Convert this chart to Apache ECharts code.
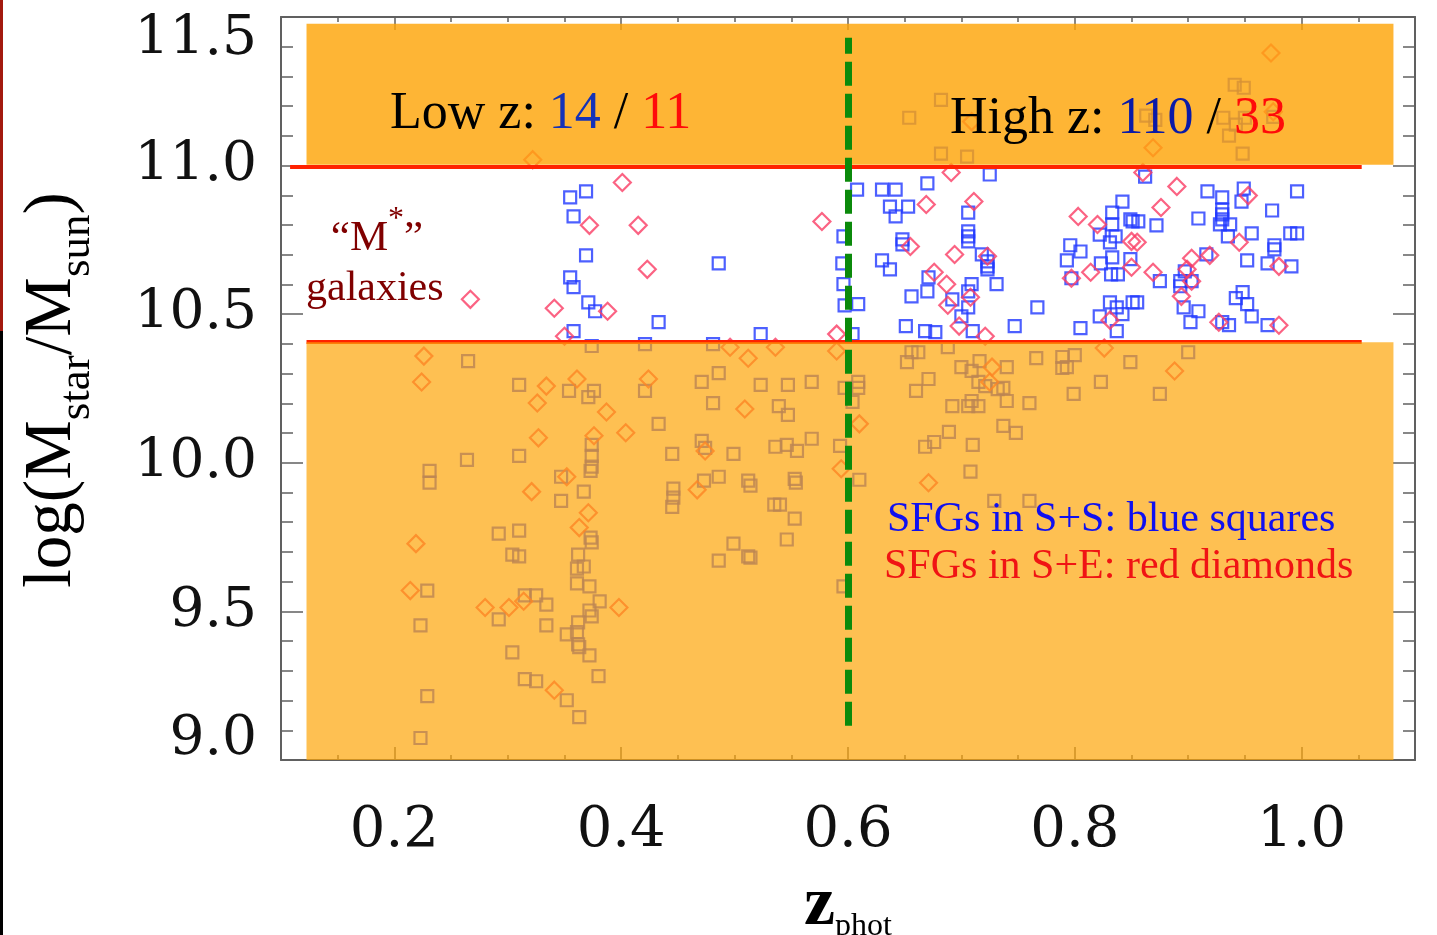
<!DOCTYPE html>
<html lang="en">
<head>
<meta charset="UTF-8">
<title>M* galaxies vs z_phot</title>
<style type="text/css">
    html, body { margin: 0; padding: 0; background: #fff; }
    #chart { width: 1437px; height: 935px; }
</style>
</head>
<body>
<div id="chart"></div>
<script src="https://cdn.jsdelivr.net/npm/echarts@6/dist/echarts.min.js"></script>
<script type="text/javascript">
    // axis ranges
    var zRange = [0.1, 1.1];
    var massRange = [9.0, 11.5];

    // red mass cuts, orange shaded bands, green z split
    var cutMass = [10.997, 10.408];
    var cutSpan = [[0.108, 1.053], [0.1225, 1.053]];
    var bandZ = [0.1225, 1.081];
    var bandHigh = [11.003, 11.477];
    var bandLow = [9.0, 10.406];
    var zSplit = 0.6;
    var splitSpan = [9.115, 11.43];

    // SFGs in S+S (blue squares): [z_phot, log M]
    var ssPoints = [
        // low z, M* window
        [0.355,10.893],[0.369,10.913],[0.358,10.829],[0.369,10.698],[0.355,10.624],[0.358,10.591],
        [0.371,10.540],[0.377,10.510],[0.358,10.443],[0.433,10.473],[0.486,10.671],[0.523,10.433],
        [0.596,10.762],[0.595,10.671],[0.596,10.601],[0.597,10.530],
        // high z, M* window
        [0.608,10.919],[0.630,10.919],[0.642,10.919],[0.670,10.940],[0.725,10.970],[0.637,10.862],
        [0.653,10.862],[0.642,10.829],[0.706,10.842],[0.706,10.779],[0.706,10.762],[0.706,10.745],
        [0.648,10.752],[0.648,10.735],[0.630,10.681],[0.637,10.651],[0.718,10.701],[0.723,10.678],
        [0.723,10.661],[0.723,10.651],[0.671,10.624],[0.670,10.577],[0.709,10.601],[0.706,10.577],
        [0.731,10.601],[0.656,10.560],[0.692,10.550],[0.706,10.523],[0.700,10.493],[0.609,10.534],
        [0.651,10.460],[0.668,10.443],[0.677,10.440],[0.710,10.443],[0.747,10.460],[0.767,10.523],
        [0.604,10.433],[0.796,10.732],[0.805,10.711],[0.793,10.681],[0.797,10.621],[0.823,10.671],
        [0.833,10.691],[0.832,10.634],[0.838,10.634],[0.842,10.879],[0.833,10.842],[0.833,10.802],
        [0.822,10.768],[0.831,10.742],[0.836,10.762],[0.849,10.819],[0.831,10.540],[0.822,10.493],
        [0.842,10.500],[0.837,10.523],[0.805,10.453],[0.837,10.443],[0.851,10.540],[0.849,10.685],
        [0.862,10.963],[0.917,10.913],[0.930,10.893],[0.949,10.923],[0.947,10.879],[0.996,10.913],
        [0.974,10.849],[0.930,10.852],[0.930,10.836],[0.930,10.819],[0.909,10.822],[0.872,10.799],
        [0.851,10.812],[0.856,10.812],[0.928,10.802],[0.937,10.802],[0.935,10.762],[0.956,10.772],
        [0.990,10.772],[0.996,10.772],[0.976,10.732],[0.976,10.718],[0.952,10.681],[0.970,10.671],
        [0.991,10.661],[0.916,10.701],[0.875,10.611],[0.893,10.611],[0.893,10.594],[0.903,10.611],
        [0.897,10.644],[0.855,10.540],[0.896,10.523],[0.909,10.510],[0.902,10.473],[0.942,10.554],
        [0.948,10.574],[0.952,10.534],[0.956,10.493],[0.936,10.463],[0.930,10.473],[0.970,10.463],
        // above 11.0
        [0.682,11.221],[0.654,11.161],[0.863,11.168],[0.871,11.154],[0.941,11.272],[0.949,11.262],
        [0.931,11.161],[0.942,11.138],[0.936,11.101],[0.950,11.161],[0.975,11.164],[0.682,11.040],
        [0.705,11.030],[0.948,11.040],
        // below the window, low z
        [0.265,10.342],[0.310,10.262],[0.354,10.242],[0.264,10.010],[0.310,10.023],[0.231,9.973],
        [0.231,9.933],[0.347,9.953],[0.347,9.872],[0.292,9.762],[0.310,9.772],[0.374,10.393],
        [0.421,10.399],[0.481,10.399],[0.376,10.242],[0.371,10.221],[0.421,10.242],[0.471,10.272],
        [0.486,10.302],[0.523,10.262],[0.547,10.262],[0.568,10.272],[0.597,10.252],[0.481,10.201],
        [0.539,10.191],[0.547,10.161],[0.433,10.131],[0.374,10.060],[0.374,10.023],[0.374,9.987],
        [0.373,9.973],[0.471,10.074],[0.474,10.050],[0.445,10.030],[0.499,10.030],[0.536,10.054],
        [0.546,10.060],[0.555,10.040],[0.568,10.081],[0.593,10.057],[0.367,9.903],[0.446,9.913],
        [0.446,9.883],[0.445,9.852],[0.473,9.940],[0.486,9.953],[0.512,9.940],[0.514,9.923],
        [0.553,9.946],[0.554,9.933],[0.535,9.859],[0.540,9.859],[0.373,9.748],[0.374,9.732],
        [0.499,9.728],[0.553,9.812],[0.546,9.742],[0.362,9.691],[0.361,9.644],[0.367,9.651],
        [0.361,9.594],[0.372,9.584],[0.381,9.534],[0.372,9.503],[0.374,9.483],[0.362,9.463],
        [0.361,9.430],[0.352,9.423],[0.362,9.389],[0.363,9.380],[0.372,9.352],[0.380,9.282],
        [0.352,9.201],[0.363,9.144],[0.486,9.671],[0.512,9.685],[0.514,9.681],[0.596,9.584],
        [0.229,9.570],[0.223,9.453],[0.229,9.215],[0.223,9.074],[0.304,9.691],[0.310,9.685],
        [0.315,9.554],[0.325,9.554],[0.334,9.523],[0.292,9.473],[0.334,9.453],[0.304,9.362],
        [0.315,9.272],[0.325,9.265],
        // below the window, high z
        [0.652,10.339],[0.656,10.372],[0.662,10.372],[0.688,10.389],[0.700,10.322],[0.709,10.309],
        [0.716,10.342],[0.740,10.322],[0.715,10.272],[0.721,10.258],[0.732,10.248],[0.737,10.252],
        [0.740,10.208],[0.671,10.282],[0.660,10.242],[0.609,10.272],[0.609,10.252],[0.604,10.205],
        [0.692,10.191],[0.709,10.208],[0.706,10.191],[0.715,10.191],[0.760,10.201],[0.766,10.352],
        [0.789,10.356],[0.800,10.362],[0.789,10.319],[0.793,10.322],[0.823,10.272],[0.799,10.232],
        [0.849,10.339],[0.689,10.104],[0.676,10.070],[0.668,10.054],[0.737,10.124],[0.748,10.101],
        [0.710,10.060],[0.708,9.970],[0.610,9.943],[0.729,9.872],[0.760,9.872],[0.900,10.372],
        [0.875,10.232]
    ];

    // SFGs in S+E (red diamonds): [z_phot, log M]
    var sePoints = [
        [0.267,10.550],[0.341,10.520],[0.350,10.426],[0.401,10.943],[0.372,10.799],[0.415,10.799],
        [0.423,10.651],[0.388,10.510],[0.577,10.812],[0.590,10.433],
        [0.691,10.977],[0.711,10.879],[0.669,10.869],[0.655,10.728],[0.694,10.701],[0.723,10.695],
        [0.676,10.641],[0.687,10.601],[0.708,10.557],[0.688,10.530],[0.698,10.460],[0.721,10.426],
        [0.803,10.829],[0.820,10.802],[0.797,10.621],[0.814,10.641],[0.831,10.480],[0.850,10.745],
        [0.850,10.658],[0.860,10.977],[0.890,10.930],[0.876,10.859],[0.953,10.899],[0.855,10.742],
        [0.945,10.742],[0.903,10.688],[0.919,10.698],[0.899,10.651],[0.903,10.611],[0.869,10.641],
        [0.894,10.560],[0.927,10.473],[0.980,10.661],[0.980,10.463],
        [0.322,11.020],[0.973,11.379],[0.709,11.148],[0.975,11.181],[0.869,11.060],
        [0.226,10.359],[0.224,10.272],[0.334,10.258],[0.326,10.201],[0.327,10.084],[0.352,9.953],
        [0.321,9.903],[0.219,9.728],[0.496,10.389],[0.512,10.352],[0.536,10.389],[0.590,10.376],
        [0.361,10.282],[0.424,10.282],[0.387,10.171],[0.509,10.181],[0.376,10.091],[0.404,10.101],
        [0.474,10.040],[0.594,9.980],[0.467,9.909],[0.371,9.832],[0.363,9.782],[0.398,9.513],
        [0.214,9.570],[0.314,9.534],[0.280,9.513],[0.301,9.513],[0.341,9.235],[0.727,10.322],
        [0.725,10.272],[0.826,10.386],[0.610,10.131],[0.671,9.933],[0.888,10.309]
    ];

    var serif = '"Liberation Serif", "Times New Roman", serif';
    var numFont = '"DejaVu Serif", serif';
    var frame = '#606060';

    function xAxisSet(pos) {
        return [{
            type: 'value', position: pos, min: zRange[0], max: zRange[1], interval: 0.05,
            axisLine: { show: true, onZero: false, lineStyle: { color: frame, width: 2 } },
            axisTick: { show: true, inside: true, length: 5, lineStyle: { color: frame, width: 1.5 } },
            axisLabel: { show: false },
            splitLine: { show: false }
        }, {
            type: 'value', position: pos, min: zRange[0], max: zRange[1], splitNumber: 5,
            axisLine: { show: false, onZero: false },
            axisTick: { show: true, inside: true, length: 13, lineStyle: { color: frame, width: 1.5 } },
            axisLabel: {
                show: pos === 'bottom', showMinLabel: false, showMaxLabel: false,
                formatter: function (v) { return v.toFixed(1); },
                fontFamily: numFont, fontSize: 56, color: '#111', margin: 43
            },
            splitLine: { show: false }
        }];
    }

    function yAxisSide(pos) {
        return {
            type: 'value', position: pos, min: massRange[0], max: massRange[1], interval: 0.5,
            axisLine: { show: true, onZero: false, lineStyle: { color: frame, width: 2 } },
            axisTick: { show: true, inside: true, length: 22, lineStyle: { color: frame, width: 1.5 } },
            minorTick: { show: true, splitNumber: 5, length: 12, lineStyle: { color: frame, width: 1.5 } },
            axisLabel: {
                show: pos === 'left', margin: 24,
                fontFamily: numFont, fontSize: 55, color: '#111',
                formatter: function (v) {
                    var s = v.toFixed(1);
                    if (v === massRange[1]) return '{dn|' + s + '}';
                    if (v === massRange[0]) return '{up|' + s + '}';
                    return s;
                },
                rich: {
                    dn: { fontFamily: numFont, fontSize: 55, color: '#111', padding: [46, 0, 0, 0] },
                    up: { fontFamily: numFont, fontSize: 55, color: '#111', padding: [0, 0, 40, 0] }
                }
            },
            splitLine: { show: false }
        };
    }

    var chart = echarts.init(document.getElementById('chart'));
    chart.setOption({
        animation: false,
        backgroundColor: '#fff',
        grid: { left: 281, right: 22, top: 17, bottom: 175, outerBoundsMode: 'none' },
        xAxis: xAxisSet('bottom').concat(xAxisSet('top')),
        yAxis: [yAxisSide('left'), yAxisSide('right')],
        series: [{
            name: 'SFGs in S+S', type: 'scatter', data: ssPoints, silent: true, z: 2,
            symbol: 'rect', symbolSize: 12,
            itemStyle: { color: 'rgba(0,0,0,0)', borderColor: '#2038ff', borderWidth: 2.2 }
        }, {
            name: 'SFGs in S+E', type: 'scatter', data: sePoints, silent: true, z: 2,
            symbol: 'diamond', symbolSize: 17,
            itemStyle: { color: 'rgba(0,0,0,0)', borderColor: '#fa3c64', borderWidth: 2.2 }
        }, {
            name: 'cuts', type: 'scatter', data: [], silent: true,
            markLine: {
                z: 3, silent: true, symbol: ['none', 'none'], label: { show: false },
                lineStyle: { color: '#ff2200', width: 4, type: 'solid' },
                data: [
                    [{ coord: [cutSpan[0][0], cutMass[0]] }, { coord: [cutSpan[0][1], cutMass[0]] }],
                    [{ coord: [cutSpan[1][0], cutMass[1]] }, { coord: [cutSpan[1][1], cutMass[1]] }]
                ]
            }
        }, {
            name: 'bands', type: 'scatter', data: [], silent: true,
            markArea: {
                z: 4, silent: true, label: { show: false },
                itemStyle: { borderWidth: 0 },
                data: [
                    [{ coord: [bandZ[0], bandHigh[1]], itemStyle: { color: 'rgba(254,165,8,0.82)' } },
                     { coord: [bandZ[1], bandHigh[0]] }],
                    [{ coord: [bandZ[0], bandLow[1]], itemStyle: { color: 'rgba(254,165,8,0.7)' } },
                     { coord: [bandZ[1], bandLow[0]] }]
                ]
            }
        }, {
            name: 'split', type: 'scatter', data: [], silent: true,
            markLine: {
                z: 5, silent: true, symbol: ['none', 'none'], label: { show: false },
                lineStyle: { color: '#0b8a0b', width: 7, type: [24, 8] },
                data: [[{ coord: [zSplit, splitSpan[0]] }, { coord: [zSplit, splitSpan[1]] }]]
            }
        }],
        graphic: [
            { type: 'rect', z: 100, shape: { x: 0, y: 0, width: 3, height: 331 }, style: { fill: '#a3190f' } },
            { type: 'rect', z: 100, shape: { x: 0, y: 331, width: 3, height: 604 }, style: { fill: '#000' } },
            {
                type: 'text', z: 100, x: 390, y: 114,
                style: {
                    text: '{k|Low z: }{b|14}{k| / }{r|11}', align: 'left', verticalAlign: 'middle',
                    rich: {
                        k: { fontFamily: serif, fontSize: 52, fill: '#000' },
                        b: { fontFamily: serif, fontSize: 52, fill: '#1432b8' },
                        r: { fontFamily: serif, fontSize: 52, fill: '#ff0a0a' }
                    }
                }
            },
            {
                type: 'text', z: 100, x: 950, y: 119,
                style: {
                    text: '{k|High z: }{b|110}{k| / }{r|33}', align: 'left', verticalAlign: 'middle',
                    rich: {
                        k: { fontFamily: serif, fontSize: 52, fill: '#000' },
                        b: { fontFamily: serif, fontSize: 52, fill: '#0a1aa8' },
                        r: { fontFamily: serif, fontSize: 52, fill: '#ff0a0a' }
                    }
                }
            },
            {
                type: 'text', z: 100, x: 377, y: 232,
                style: {
                    text: '{q|\u201cM}{sup|*}{q|\u201d}', align: 'center', verticalAlign: 'middle',
                    rich: {
                        q: { fontFamily: serif, fontSize: 43, fill: '#800000', verticalAlign: 'top', padding: [14, 0, 0, 0] },
                        sup: { fontFamily: serif, fontSize: 32, fill: '#800000', verticalAlign: 'top' }
                    }
                }
            },
            {
                type: 'text', z: 100, x: 306, y: 289,
                style: { text: 'galaxies', align: 'left', verticalAlign: 'middle', fontFamily: serif, fontSize: 42, fill: '#800000' }
            },
            {
                type: 'text', z: 100, x: 887, y: 520,
                style: { text: 'SFGs in S+S: blue squares', align: 'left', verticalAlign: 'middle', fontFamily: serif, fontSize: 42, fill: '#1010f0' }
            },
            {
                type: 'text', z: 100, x: 884, y: 567,
                style: { text: 'SFGs in S+E: red diamonds', align: 'left', verticalAlign: 'middle', fontFamily: serif, fontSize: 42, fill: '#f01414' }
            },
            {
                type: 'text', z: 100, x: 52, y: 390, rotation: Math.PI / 2,
                style: {
                    text: '{m|log(M}{s|star}{m|/M}{s|sun}{m|)}', align: 'center', verticalAlign: 'middle',
                    rich: {
                        m: { fontFamily: serif, fontSize: 67, fill: '#000', verticalAlign: 'top', lineHeight: 67 },
                        s: { fontFamily: serif, fontSize: 45, fill: '#000', verticalAlign: 'top', lineHeight: 45, padding: [36, 0, 0, 0] }
                    }
                }
            },
            {
                type: 'text', z: 100, x: 848, y: 906,
                style: {
                    text: '{m|z}{s|phot}', align: 'center', verticalAlign: 'middle',
                    rich: {
                        m: { fontFamily: serif, fontSize: 70, fill: '#000', fontWeight: 'bold', verticalAlign: 'top', lineHeight: 70 },
                        s: { fontFamily: serif, fontSize: 32, fill: '#000', verticalAlign: 'top', lineHeight: 32, padding: [40, 0, 0, 0] }
                    }
                }
            }
        ]
    });
</script>
</body>
</html>
